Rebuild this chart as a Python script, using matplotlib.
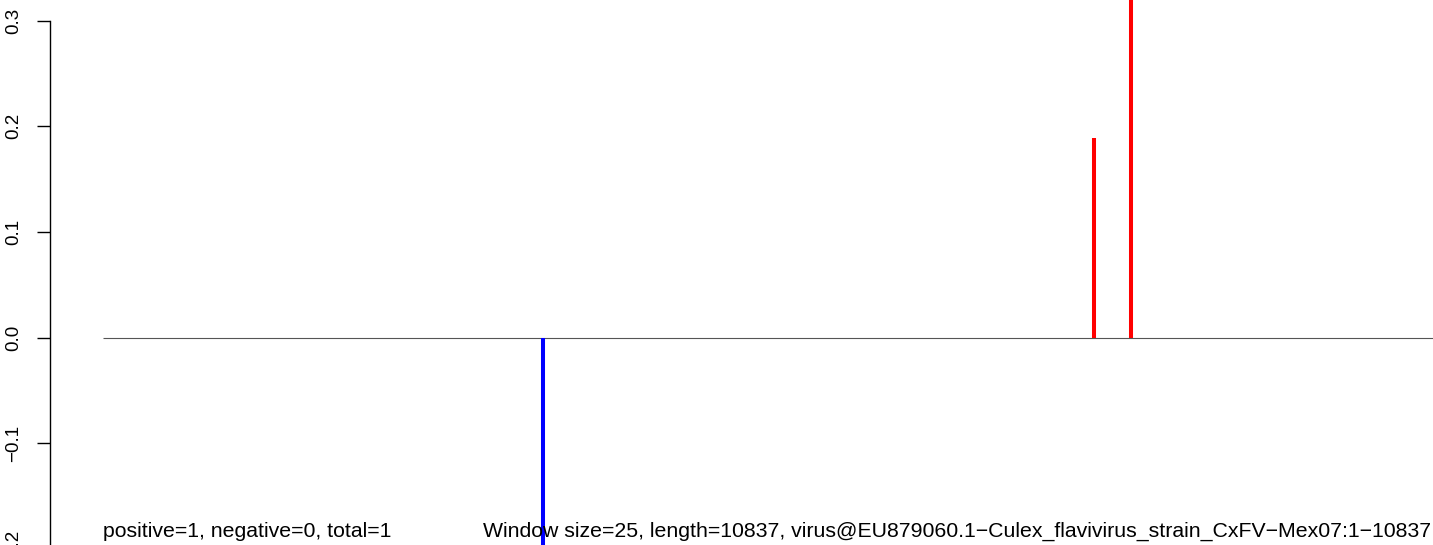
import numpy as np
import matplotlib
matplotlib.use("Agg")
import matplotlib.pyplot as plt

plt.rcParams['font.family'] = ['Liberation Sans', 'DejaVu Sans']

# sequence info
seq_length = 10837
window_size = 25
seq_name = "virus@EU879060.1\u2212Culex_flavivirus_strain_CxFV\u2212Mex07:1\u221210837"
n_positive, n_negative, n_total = 1, 0, 1

# windows with a score
pos_x = [8075, 8376]
pos_val = [0.189, 0.36]
neg_x = [3585]
neg_val = [-0.26]

yticks = [-0.2, -0.1, 0.0, 0.1, 0.2, 0.3]

W, H = 1433, 545
fig = plt.figure(figsize=(W / 100, H / 100), dpi=100)

# axes in pixel layout: left spine at x=50, y=0 at px 337.5, 1056 px per unit
zero_px, ppu = 337.5, 1056
top_px, bot_px = 0, 565
left_px = 50
ax = fig.add_axes([left_px / W, (H - bot_px) / H, (W - left_px) / W, (bot_px - top_px) / H])
px_per_unit_x = 1330 / seq_length
ax.set_xlim(-(103 - left_px) / px_per_unit_x, seq_length)
ax.set_ylim((zero_px - bot_px) / ppu, (zero_px - top_px) / ppu)

ax.hlines(0, 0, seq_length, color="#555555", linewidth=0.8)
ax.vlines(pos_x, 0, pos_val, color="#FF0000", linewidth=2.9)
ax.vlines(neg_x, 0, neg_val, color="#0000FF", linewidth=2.9)

for s in ['top', 'right', 'bottom']:
    ax.spines[s].set_visible(False)
ax.spines['left'].set_bounds(-0.2, 0.3)
ax.spines['left'].set_linewidth(1.0)
ax.set_xticks([])
ax.set_yticks(yticks)
ax.set_yticklabels([f"{v:.1f}".replace("-", "\u2212") for v in yticks],
                   rotation=90, va='center', fontsize=13.5)
ax.tick_params(axis='y', length=9.4, width=1.0, pad=10.5)

fig.text(103 / W, (H - 537) / H,
         f"positive={n_positive}, negative={n_negative}, total={n_total}",
         fontsize=15.3, ha='left', va='baseline')
fig.text(483 / W, (H - 537) / H,
         f"Window size={window_size}, length={seq_length}, {seq_name}",
         fontsize=15.3, ha='left', va='baseline')

fig.savefig("out.png", dpi=100)
